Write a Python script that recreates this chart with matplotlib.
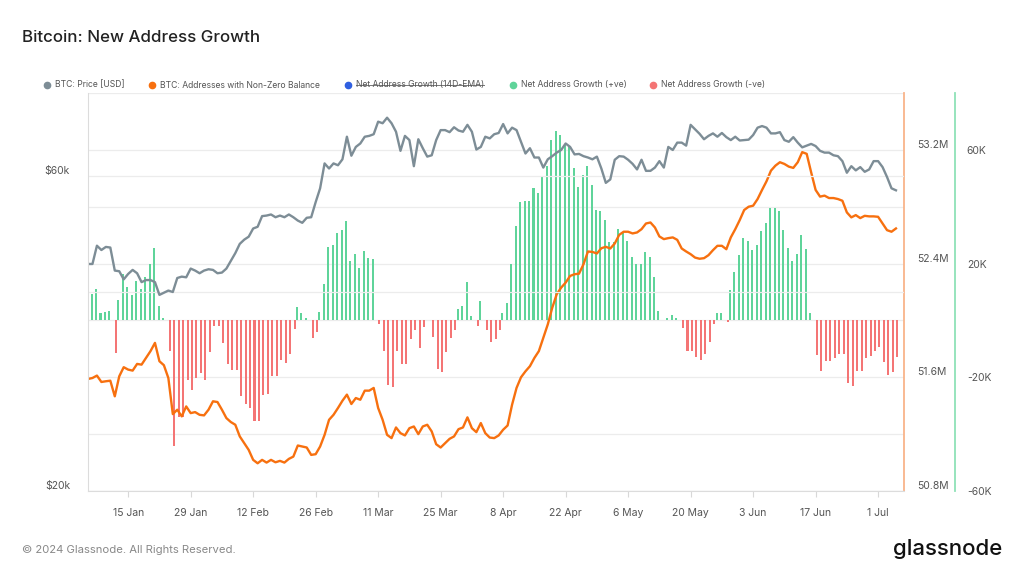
import numpy as np
import pandas as pd
import matplotlib
matplotlib.use("Agg")
import matplotlib.pyplot as plt
import matplotlib.dates as mdates
from matplotlib.lines import Line2D
from matplotlib.ticker import FixedLocator, NullLocator

plt.rcParams["font.family"] = ["Inter", "DejaVu Sans"]

# ---- data ----
# BTC price in k USD, daily from 2024-01-06
price_k = [
    44.1, 44.1, 47.0, 46.3, 46.8, 46.7, 43.1, 43.0, 41.8, 42.6,
    43.2, 42.7, 41.4, 41.7, 41.7, 41.4, 39.6, 39.9, 40.2, 40.0,
    42.0, 42.2, 42.1, 43.4, 43.1, 42.7, 43.1, 43.3, 43.2, 42.7,
    42.8, 43.4, 44.6, 45.8, 47.3, 48.0, 48.5, 49.9, 50.2, 52.1,
    52.2, 52.4, 51.9, 52.2, 51.9, 52.4, 51.9, 51.3, 50.9, 51.8,
    51.9, 54.7, 57.4, 62.6, 61.5, 62.6, 62.2, 63.5, 68.7, 64.3,
    66.3, 67.1, 68.7, 68.9, 69.3, 72.4, 72.0, 73.4, 72.0, 69.9,
    65.4, 68.9, 67.9, 62.0, 68.1, 66.0, 64.1, 64.4, 67.9, 70.3,
    70.3, 69.8, 71.0, 70.2, 69.9, 71.6, 69.9, 65.7, 66.3, 68.7,
    68.3, 69.3, 69.6, 71.8, 69.5, 70.9, 70.3, 67.5, 64.8, 66.0,
    63.9, 63.9, 61.7, 63.5, 64.2, 65.0, 65.6, 67.1, 66.3, 64.6,
    64.7, 64.2, 63.9, 63.5, 64.1, 61.5, 58.5, 59.2, 63.4, 64.2,
    64.1, 63.4, 62.5, 61.3, 63.4, 61.0, 61.0, 61.7, 63.1, 61.7,
    66.3, 65.6, 67.3, 67.3, 66.6, 71.6, 70.5, 69.4, 68.1, 68.9,
    69.5, 68.7, 69.6, 68.6, 67.9, 68.7, 67.8, 67.9, 68.0, 69.1,
    70.9, 71.3, 70.9, 69.5, 69.5, 69.8, 67.9, 67.5, 68.6, 67.3,
    66.2, 66.6, 67.0, 66.5, 65.4, 65.0, 65.0, 64.4, 64.2, 63.1,
    60.6, 62.0, 61.1, 61.8, 60.8, 61.3, 63.1, 63.1, 61.8, 59.7,
    57.4, 57.0,
]

# addresses with non-zero balance, millions, daily from 2024-01-06
addresses_m = [
    51.588, 51.595, 51.612, 51.567, 51.572, 51.576, 51.466, 51.607, 51.671, 51.654,
    51.647, 51.694, 51.689, 51.737, 51.784, 51.842, 51.713, 51.685, 51.595, 51.341,
    51.372, 51.325, 51.395, 51.348, 51.355, 51.336, 51.332, 51.372, 51.431, 51.426,
    51.372, 51.313, 51.285, 51.266, 51.184, 51.136, 51.089, 51.019, 50.995, 51.019,
    51.000, 51.019, 51.002, 51.012, 51.000, 51.026, 51.042, 51.120, 51.113, 51.106,
    51.054, 51.059, 51.113, 51.195, 51.301, 51.336, 51.384, 51.435, 51.478, 51.412,
    51.454, 51.442, 51.506, 51.506, 51.525, 51.384, 51.301, 51.195, 51.172, 51.247,
    51.207, 51.191, 51.242, 51.254, 51.200, 51.254, 51.266, 51.219, 51.129, 51.106,
    51.136, 51.167, 51.184, 51.235, 51.247, 51.318, 51.242, 51.214, 51.278, 51.207,
    51.176, 51.172, 51.191, 51.231, 51.261, 51.407, 51.525, 51.600, 51.642, 51.678,
    51.736, 51.784, 51.878, 51.972, 52.089, 52.184, 52.231, 52.266, 52.313, 52.325,
    52.329, 52.395, 52.485, 52.482, 52.471, 52.508, 52.518, 52.506, 52.541, 52.602,
    52.624, 52.624, 52.612, 52.619, 52.642, 52.682, 52.689, 52.654, 52.591, 52.572,
    52.579, 52.584, 52.567, 52.506, 52.485, 52.466, 52.442, 52.434, 52.438, 52.459,
    52.494, 52.525, 52.525, 52.501, 52.584, 52.642, 52.706, 52.777, 52.800, 52.807,
    52.854, 52.918, 52.979, 53.054, 53.089, 53.113, 53.101, 53.082, 53.073, 53.113,
    53.184, 53.172, 53.042, 52.918, 52.871, 52.878, 52.861, 52.861, 52.854, 52.842,
    52.760, 52.725, 52.741, 52.720, 52.736, 52.732, 52.732, 52.729, 52.682, 52.635,
    52.624, 52.647,
]

# net address growth, thousands, daily from 2024-01-07
net_growth_k = [
    9.2, 10.9, 2.5, 2.8, 3.4, -11.4, 7.1, 16.2, 11.9, 8.8,
    13.9, 10.9, 15.2, 20.0, 25.4, 5.1, 0.7, -10.8, -44.0, -33.8,
    -33.8, -20.8, -24.5, -20.2, -18.5, -20.8, -11.2, -1.8, -2.0, -8.1,
    -15.3, -17.5, -17.3, -26.5, -29.4, -30.8, -35.5, -35.5, -26.3, -25.9,
    -19.6, -19.4, -13.8, -14.9, -11.7, -2.9, 4.6, 2.5, 0.7, -6.1,
    -4.2, 3.1, 12.9, 26.0, 26.6, 30.6, 31.8, 34.8, 20.9, 23.5,
    18.5, 24.5, 22.1, 21.5, -1.2, -10.6, -22.8, -23.4, -10.8, -15.3,
    -15.3, -6.7, -3.5, -9.6, -2.4, 0.2, -5.8, -17.1, -18.3, -11.0,
    -6.1, -3.3, 3.9, 4.9, 13.6, 1.6, -1.8, 6.7, -3.2, -7.5,
    -6.7, -3.3, 2.7, 6.0, 20.0, 33.2, 41.5, 41.9, 41.9, 46.6,
    44.8, 50.8, 54.3, 63.3, 66.8, 65.4, 61.9, 61.2, 53.6, 46.8,
    51.3, 54.4, 47.7, 38.8, 38.6, 35.3, 27.6, 27.6, 32.0, 30.6,
    28.0, 22.3, 20.0, 20.0, 24.1, 22.3, 15.2, 3.3, 0.2, 0.9,
    1.9, 0.9, -2.8, -10.6, -10.8, -12.9, -13.8, -11.8, -7.5, -1.4,
    2.7, 2.7, -0.5, 10.6, 17.2, 23.0, 28.9, 27.8, 24.8, 26.5,
    31.5, 34.3, 39.4, 39.6, 38.6, 31.9, 25.4, 20.9, 23.5, 30.1,
    25.0, 2.7, -12.3, -17.9, -14.4, -14.4, -13.2, -11.8, -11.8, -22.0,
    -22.9, -17.9, -17.9, -13.2, -12.6, -10.6, -9.3, -14.6, -19.1, -18.2,
    -12.8,
]

PRICE_TICKS = [20, 40, 60]
PRICE_LABELS = ["$20k", "", "$60k"]
ADDR_TICKS = [50.8, 51.6, 52.4, 53.2]
NET_TICKS = [-60, -20, 20, 60]

PRICE_COLOR = "#7d8d96"
ADDR_COLOR = "#f7700f"
POS_COLOR = "#5fd49a"
NEG_COLOR = "#f47575"
EMA_COLOR = "#2f5fe0"
GRID = "#ececec"
TEXT = "#555555"

dates = mdates.date2num(pd.date_range("2024-01-06", periods=len(price_k), freq="D"))
bar_x = mdates.date2num(pd.date_range("2024-01-07", periods=len(net_growth_k), freq="D"))
net = np.array(net_growth_k)
tick_dates = pd.date_range("2024-01-15", "2024-07-01", freq="14D")

W, H = 1024, 576
fig = plt.figure(figsize=(W / 100, H / 100), dpi=100)
ax = fig.add_axes([88 / W, 1 - 491 / H, (904 - 88) / W, (491 - 93) / H])
ax_net = ax.twinx()
ax_addr = ax.twinx()
ax_net.set_zorder(0)
ax_addr.set_zorder(1)
ax.set_zorder(2)
ax.patch.set_visible(False)
ax_addr.patch.set_visible(False)

# bars
pos = net > 0
ax_net.bar(bar_x[pos] - 0.2, net[pos], width=0.45, color=POS_COLOR, linewidth=0)
ax_net.bar(bar_x[~pos] + 0.3, net[~pos], width=0.45, color=NEG_COLOR, linewidth=0)
ax_net.set_ylim(-60, 80)
ax_net.yaxis.set_major_locator(FixedLocator(np.arange(-60, 81, 20)))
ax_net.set_yticklabels(["%dK" % v if v in NET_TICKS else "" for v in range(-60, 81, 20)])
ax_net.grid(axis="y", color=GRID, lw=0.9)
ax_net.set_axisbelow(True)

# addresses
ax_addr.plot(dates, addresses_m, color=ADDR_COLOR, lw=1.7)
ax_addr.set_ylim(50.8, 53.6)
ax_addr.yaxis.set_major_locator(FixedLocator(ADDR_TICKS))
ax_addr.set_yticklabels(["%.1fM" % v for v in ADDR_TICKS])

# price
ax.plot(dates, price_k, color=PRICE_COLOR, lw=1.7)
ax.set_yscale("log")
ax.set_ylim(20, 80)
ax.yaxis.set_major_locator(FixedLocator(PRICE_TICKS))
ax.yaxis.set_minor_locator(NullLocator())
ax.set_yticklabels(PRICE_LABELS)
ax.grid(axis="y", color=GRID, lw=0.9)

ax.set_xlim(dates[0], dates[0] + 182.8)
ax.set_xticks(mdates.date2num(tick_dates))
ax.set_xticklabels([f"{d.day} {d:%b}" for d in tick_dates])
ax.tick_params(axis="x", length=4, color="#d8d8d8", pad=8, labelsize=7.5, labelcolor=TEXT)

ax.tick_params(axis="y", length=0, pad=13, labelsize=7.5, labelcolor=TEXT)
ax_addr.tick_params(axis="y", length=0, pad=9.5, labelsize=7.5, labelcolor=TEXT)
ax_net.tick_params(axis="y", length=0, pad=8.5, labelsize=7.5, labelcolor=TEXT)
for a in (ax, ax_addr, ax_net):
    for lab in a.get_yticklabels():
        lab.set_verticalalignment("bottom")

for side in ("top", "right"):
    ax.spines[side].set_visible(False)
ax.spines["left"].set_color("#dcdcdc")
ax.spines["bottom"].set_color("#dcdcdc")
for a in (ax_addr, ax_net):
    for side in ("top", "left", "bottom"):
        a.spines[side].set_visible(False)
ax_addr.spines["right"].set_color("#f9b48a")
ax_addr.spines["right"].set_linewidth(1.3)
ax_net.spines["right"].set_position(("outward", 36.7))
ax_net.spines["right"].set_color("#8fe2b8")
ax_net.spines["right"].set_linewidth(1.3)

# title / legend / footer
fig.text(22 / W, 1 - 37 / H, "Bitcoin: New Address Growth", fontsize=12.2,
         fontweight="medium", color="#222222", va="center", ha="left")

legend = [
    (47, PRICE_COLOR, "BTC: Price [USD]"),
    (152, ADDR_COLOR, "BTC: Addresses with Non-Zero Balance"),
    (348, EMA_COLOR, "Net Address Growth (14D-EMA)"),
    (513, POS_COLOR, "Net Address Growth (+ve)"),
    (653, NEG_COLOR, "Net Address Growth (-ve)"),
]
ly = 1 - 85 / H
for x, c, label in legend:
    fig.add_artist(Line2D([x / W], [ly], marker="o", markersize=4.5, color=c,
                          linestyle="none", transform=fig.transFigure))
    fig.text((x + 8) / W, ly, label, fontsize=6.2, color=TEXT, va="center", ha="left")
    if "EMA" in label:
        fig.add_artist(Line2D([(x + 8) / W, 484 / W], [ly, ly], color="#777777",
                              lw=0.7, transform=fig.transFigure))

fig.text(22 / W, 1 - 550 / H, "\u00a9 2024 Glassnode. All Rights Reserved.",
         fontsize=8.1, color="#888888", va="center", ha="left")
fig.text(1002 / W, 1 - 549 / H, "glassnode", fontsize=16, fontweight="medium",
         color="#111111", va="center", ha="right")

fig.savefig("out.png", dpi=100, facecolor="white")
